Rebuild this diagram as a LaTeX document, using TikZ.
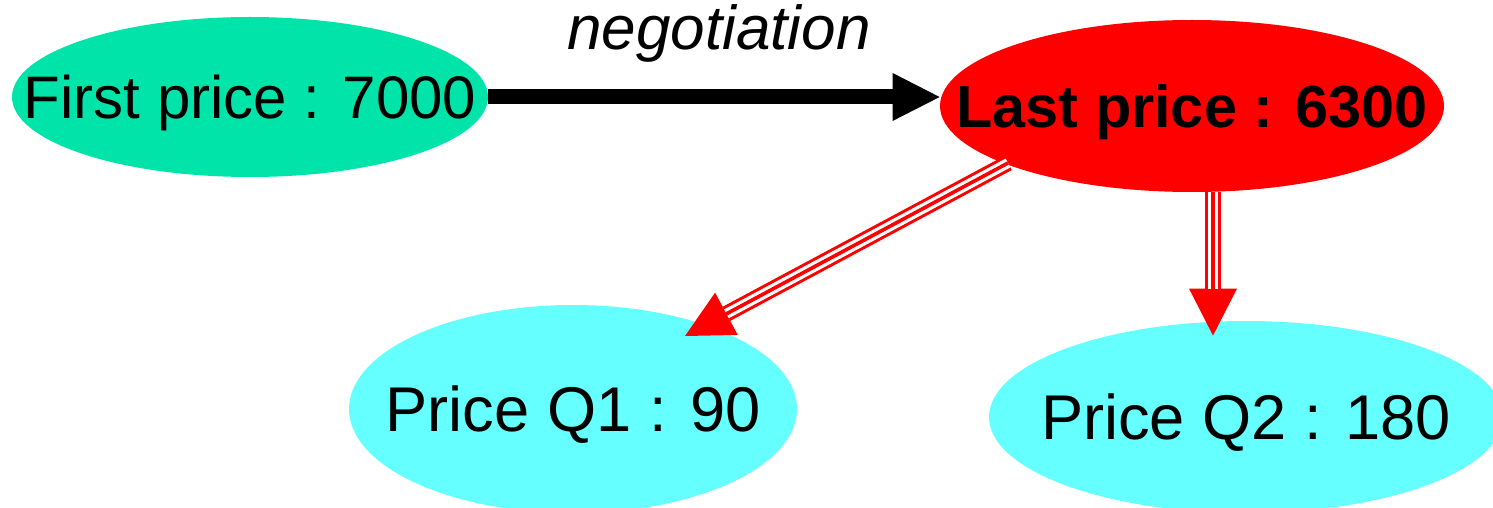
\documentclass[tikz,border=0pt]{standalone}
\usepackage{fontspec}
\setmainfont{Liberation Sans}
\usetikzlibrary{shapes.geometric,arrows.meta,calc}
\definecolor{ngreen}{RGB}{0,228,170}
\definecolor{ncyan}{RGB}{102,255,255}
\tikzset{
  ell/.style={ellipse, inner sep=0pt, draw=none, text depth=0pt},
  txtA/.style={font=\fontsize{30}{36}\selectfont, text height=21.5pt},
  txtB/.style={font=\bfseries\fontsize{29.7}{36}\selectfont, text height=21.3pt},
  txtC/.style={font=\fontsize{31.6}{38}\selectfont, text height=22.6pt},
  lbl/.style={font=\itshape\fontsize{31}{36}\selectfont, inner sep=0pt, anchor=base},
  blackarrow/.style={draw=black, line width=7.5pt, -{Triangle[length=23.5pt,width=24pt,line width=0pt]}},
  redouter/.style={draw=red, line width=8pt, -{Triangle[length=23.5pt,width=24pt,line width=0pt]}},
  redgap/.style={draw=white, line width=5pt, shorten >=23.5pt},
  redmid/.style={draw=red, line width=1.8pt, shorten >=23.3pt},
}
\begin{document}
\begin{tikzpicture}[x=0.5pt,y=-0.5pt]
\useasboundingbox (0,0) rectangle (1493,508);
\node[ell, fill=ngreen, minimum width=238pt, minimum height=80pt, txtA] (g) at (250,97) {\makebox[0pt]{First price : 7000}};
\node[ell, fill=red, minimum width=252pt, minimum height=86pt, txtB] (r) at (1192,106) {\makebox[0pt]{Last price : 6300}};
\node[ell, fill=ncyan, minimum width=224pt, minimum height=104pt, txtC] (q1) at (573,409) {\makebox[0pt]{Price Q1 : 90}};
\node[ell, fill=ncyan, minimum width=257pt, minimum height=96pt, txtC] (q2) at (1246,417) {\makebox[0pt]{Price Q2 : 180}};
\node[lbl] (neg) at (719,50) {negotiation};
% black arrow
\draw[blackarrow] (g.east) -- (r.west |- g.east);
% red triple arrows
\draw[redouter] ($(r.center)+(-184,57)$) -- ($(q1.center)+(112,-73)$);
\draw[redgap] ($(r.center)+(-184,57)$) -- ($(q1.center)+(112,-73)$);
\draw[redmid] ($(r.center)+(-184,57)$) -- ($(q1.center)+(112,-73)$);
\draw[redouter] ($(r.south)+(21,0)$) -- ($(q2.north)+(-33,15)$);
\draw[redgap] ($(r.south)+(21,0)$) -- ($(q2.north)+(-33,15)$);
\draw[redmid] ($(r.south)+(21,0)$) -- ($(q2.north)+(-33,15)$);
\end{tikzpicture}
\end{document}
